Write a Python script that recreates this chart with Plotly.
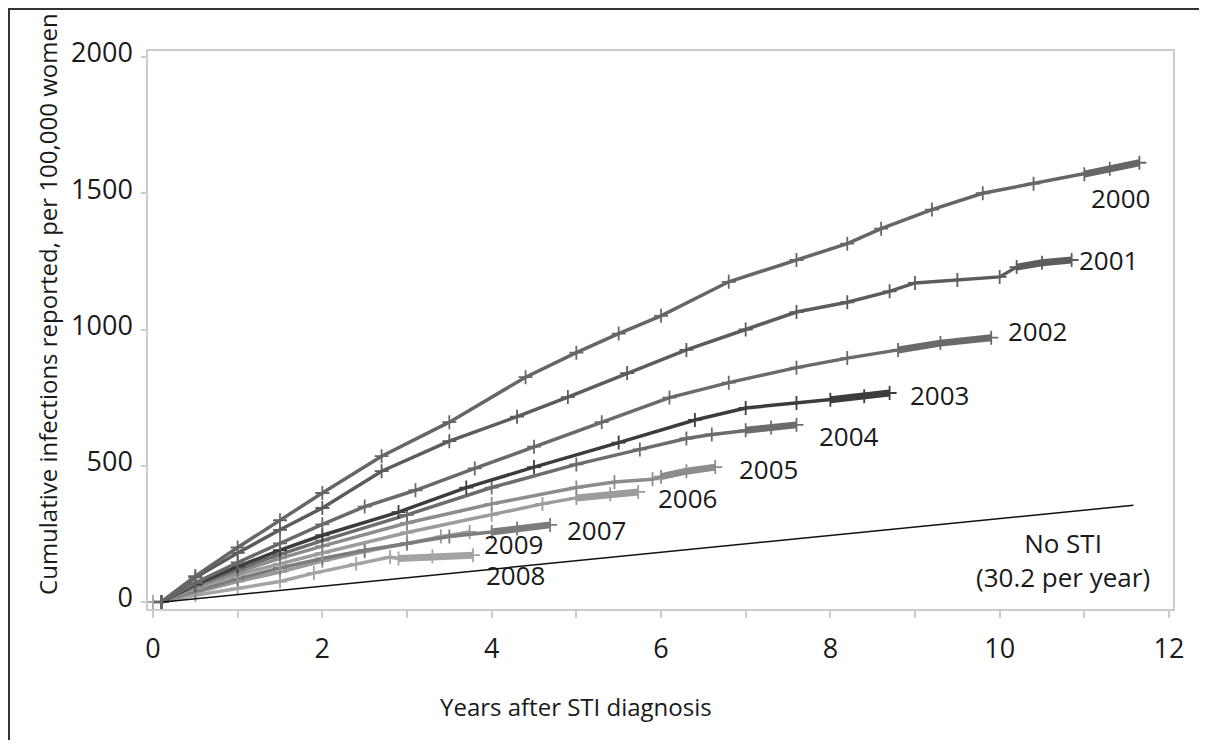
import plotly.graph_objects as go

# ---------------- data ----------------
years = ["2000", "2001", "2002", "2003", "2004", "2005", "2006", "2007", "2008", "2009"]

x_2000 = [0.1, 0.5, 1.0, 1.5, 2.0, 2.7, 3.5, 4.4, 5.0, 5.5, 6.0, 6.8, 7.6, 8.2, 8.6, 9.2, 9.8, 10.4, 11.0, 11.3, 11.65]
y_2000 = [0, 95, 200, 300, 400, 535, 660, 825, 915, 985, 1050, 1175, 1255, 1315, 1370, 1440, 1500, 1535, 1570, 1590, 1612]

x_2001 = [0.1, 0.5, 1.0, 1.5, 2.0, 2.7, 3.5, 4.3, 4.9, 5.6, 6.3, 7.0, 7.6, 8.2, 8.7, 9.0, 9.5, 10.0, 10.2, 10.5, 10.85]
y_2001 = [0, 90, 180, 265, 345, 480, 590, 680, 752, 840, 925, 1000, 1064, 1100, 1140, 1171, 1182, 1193, 1229, 1245, 1255]

x_2002 = [0.1, 0.5, 1.0, 1.5, 2.0, 2.5, 3.1, 3.8, 4.5, 5.3, 6.1, 6.8, 7.6, 8.2, 8.8, 9.3, 9.9]
y_2002 = [0, 70, 145, 215, 285, 350, 410, 490, 570, 660, 750, 805, 860, 895, 925, 950, 970]

x_2003 = [0.1, 0.5, 1.0, 1.5, 2.0, 2.9, 3.7, 4.5, 5.5, 6.4, 7.0, 7.6, 8.0, 8.4, 8.7]
y_2003 = [0, 65, 130, 190, 245, 330, 420, 495, 585, 668, 712, 730, 742, 755, 767]

x_2004 = [0.1, 0.5, 1.0, 1.5, 2.0, 3.0, 4.0, 5.0, 5.75, 6.3, 6.6, 7.0, 7.3, 7.6]
y_2004 = [0, 60, 120, 175, 225, 320, 420, 505, 560, 600, 615, 630, 640, 650]

x_2005 = [0.1, 0.5, 1.0, 1.5, 2.0, 3.0, 4.0, 5.0, 5.45, 5.9, 6.0, 6.3, 6.64]
y_2005 = [0, 55, 110, 160, 205, 290, 360, 420, 440, 450, 460, 480, 495]

x_2006 = [0.1, 0.5, 1.0, 1.5, 2.0, 3.0, 4.0, 4.6, 5.0, 5.4, 5.73]
y_2006 = [0, 50, 100, 140, 180, 255, 320, 360, 382, 395, 404]

x_2007 = [0.1, 0.5, 1.0, 1.5, 2.0, 2.5, 3.0, 3.5, 4.0, 4.3, 4.69]
y_2007 = [0, 40, 85, 125, 160, 190, 215, 240, 257, 270, 283]

x_2008 = [0.0, 0.1, 0.5, 1.0, 1.5, 1.9, 2.4, 2.8, 2.9, 3.3, 3.78]
y_2008 = [0, 0, 25, 50, 75, 106, 140, 165, 160, 168, 172]

x_2009 = [0.1, 0.5, 1.0, 1.5, 2.0, 2.5, 3.0, 3.4, 3.74]
y_2009 = [0, 35, 75, 110, 150, 185, 215, 240, 257]

x_nosti = [0.12, 11.58]
y_nosti = [0, 355]

x_ticks = [0, 2, 4, 6, 8, 10, 12]
y_ticks = [0, 500, 1000, 1500, 2000]

# ---------------- styles ----------------
series = {
    "2000": (x_2000, y_2000), "2001": (x_2001, y_2001), "2002": (x_2002, y_2002),
    "2003": (x_2003, y_2003), "2004": (x_2004, y_2004), "2005": (x_2005, y_2005),
    "2006": (x_2006, y_2006), "2007": (x_2007, y_2007), "2008": (x_2008, y_2008),
    "2009": (x_2009, y_2009),
}
colors = {
    "2000": "#666666", "2001": "#5c5c5c", "2002": "#6a6a6a", "2003": "#3c3c3c",
    "2004": "#6c6c6c", "2005": "#8c8c8c", "2006": "#9c9c9c", "2007": "#7c7c7c",
    "2008": "#a4a4a4", "2009": "#9a9a9a",
}
# x where the dense (bar-like) final stretch begins
bar_from = {
    "2000": 11.0, "2001": 10.2, "2002": 8.8, "2003": 8.0, "2004": 7.0,
    "2005": 6.0, "2006": 5.0, "2007": 4.0, "2008": 2.9, "2009": 99,
}
# label offsets in px from the curve end (xshift, yshift)
label_shift = {
    "2000": (-50, -35), "2001": (5, 0), "2002": (15, 7), "2003": (18, -2),
    "2004": (21, -11), "2005": (22, -2), "2006": (18, -6), "2007": (15, -5),
    "2008": (11, -20), "2009": (12, -12),
}

FONT = "Open Sans"
TXT = "#1a1a1a"
fig = go.Figure()

draw_order = ["2009", "2008", "2007", "2006", "2005", "2004", "2003", "2002", "2001", "2000"]
for yr in draw_order:
    xs, ys = series[yr]
    c = colors[yr]
    fig.add_trace(go.Scatter(
        x=xs, y=ys, mode="lines+markers",
        line=dict(color=c, width=3.5),
        marker=dict(symbol="cross-thin", size=10, line=dict(color=c, width=1.8)),
        showlegend=False, hoverinfo="skip",
    ))
    bx = [x for x in xs if x >= bar_from[yr]]
    by = [y for x, y in zip(xs, ys) if x >= bar_from[yr]]
    if len(bx) > 1:
        fig.add_trace(go.Scatter(
            x=bx, y=by, mode="lines",
            line=dict(color=c, width=7),
            showlegend=False, hoverinfo="skip",
        ))

fig.add_trace(go.Scatter(
    x=x_nosti, y=y_nosti, mode="lines",
    line=dict(color="#111111", width=1.5),
    showlegend=False, hoverinfo="skip",
))

# curve labels
for yr in years:
    xs, ys = series[yr]
    dx, dy = label_shift[yr]
    fig.add_annotation(
        x=xs[-1], y=ys[-1], text=yr, showarrow=False,
        xanchor="left", yanchor="middle", xshift=dx, yshift=dy,
        font=dict(family=FONT, size=26, color=TXT),
    )

fig.add_annotation(
    x=10.75, y=154, text="No STI<br>(30.2 per year)", showarrow=False,
    xanchor="center", yanchor="middle", align="center",
    font=dict(family=FONT, size=26, color=TXT),
)

# axis titles
fig.add_annotation(
    xref="paper", yref="paper", x=-0.0976, y=0.5466,
    text="Cumulative infections reported, per 100,000 women",
    textangle=-90, showarrow=False, xanchor="center", yanchor="middle",
    font=dict(family=FONT, size=24, color=TXT),
)
fig.add_annotation(
    xref="paper", yref="paper", x=0.4176, y=-0.1756,
    text="Years after STI diagnosis", showarrow=False,
    xanchor="center", yanchor="middle",
    font=dict(family=FONT, size=24, color=TXT),
)

# outer frame
fig.add_shape(
    type="rect", xref="paper", yref="paper",
    x0=-0.1356, x1=1.0293, y0=-0.30, y1=1.0753,
    line=dict(color="#333333", width=2), fillcolor="rgba(0,0,0,0)", layer="below",
)

AX = "#cccccc"
fig.update_xaxes(
    range=[-0.059, 12.047], tickvals=x_ticks, ticktext=[str(v) for v in x_ticks],
    showgrid=False, zeroline=False, showline=True, linecolor=AX, linewidth=1.5,
    mirror=True, ticks="outside", ticklen=7, tickcolor=AX, tickwidth=1.5,
    minor=dict(dtick=1, tick0=0, ticks="outside", ticklen=7, tickcolor=AX, tickwidth=1.5, showgrid=False),
    tickfont=dict(family=FONT, size=27, color=TXT), ticklabelstandoff=8,
)
fig.update_yaxes(
    range=[-25.7, 2022], tickvals=y_ticks, ticktext=[str(v) for v in y_ticks],
    showgrid=False, zeroline=False, showline=True, linecolor=AX, linewidth=1.5,
    mirror=True, ticks="outside", ticklen=5, tickcolor=AX, tickwidth=1.5,
    tickfont=dict(family=FONT, size=27, color=TXT), ticklabelstandoff=3, ticklabelshift=-4,
)

# the page body adds an 8 px margin all round, so the figure is sized to fit inside it
fig.update_layout(
    width=1199, height=732,
    margin=dict(l=140, r=34, t=43, b=131),
    paper_bgcolor="white", plot_bgcolor="white",
    showlegend=False,
)

fig.write_html("out.html")
